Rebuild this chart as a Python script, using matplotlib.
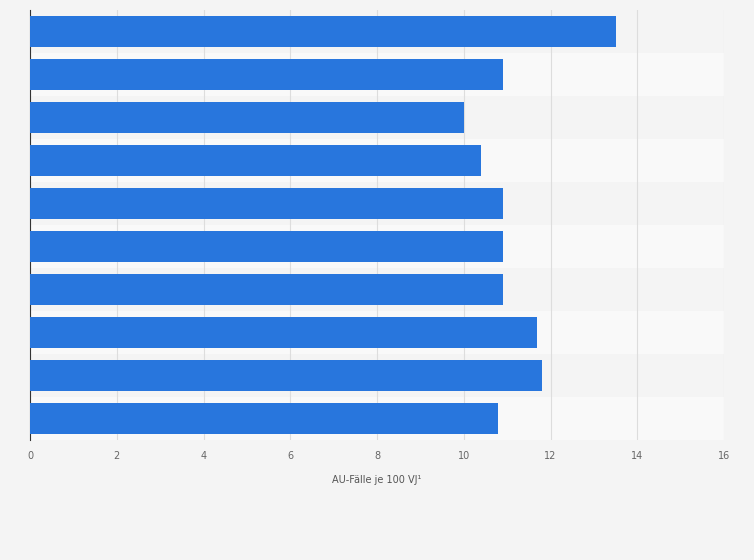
import matplotlib
matplotlib.use("Agg")
import matplotlib.pyplot as plt

categories = ["A", "B", "C", "D", "E", "F", "G", "H", "I", "J"]
values = [13.5, 10.9, 10.0, 10.4, 10.9, 10.9, 10.9, 11.7, 11.8, 10.8]
xticks = [0, 2, 4, 6, 8, 10, 12, 14, 16]

fig = plt.figure(figsize=(7.54, 5.60), dpi=100)
fig.patch.set_facecolor("#f4f4f4")
ax = fig.add_axes([30/754, 1 - 440/560, 694/754, 430/560])
ax.set_facecolor("#f4f4f4")
n = len(categories)
ys = list(range(n))
for i in ys:
    ax.axhspan(i - 0.5, i + 0.5, color="#f9f9f9" if i % 2 == 1 else "#f4f4f4", zorder=0, lw=0)
ax.barh(ys, values, height=0.7, color="#2876dd", zorder=3)
ax.set_ylim(n - 0.5, -0.5)
ax.set_xlim(0, 16)
ax.set_xticks(xticks)
ax.set_xticklabels([str(t) for t in xticks], fontsize=7, color="#666666")
ax.set_yticks([])
ax.grid(axis="x", color="#dddddd", lw=0.8, zorder=1)
for s in ["top", "right", "bottom"]:
    ax.spines[s].set_visible(False)
ax.spines["left"].set_color("#333333")
ax.tick_params(axis="x", length=0, pad=8)
ax.set_xlabel("AU-Fälle je 100 VJ¹", fontsize=7, color="#555555", labelpad=10)
fig.savefig("out.png", dpi=100, facecolor=fig.get_facecolor())
